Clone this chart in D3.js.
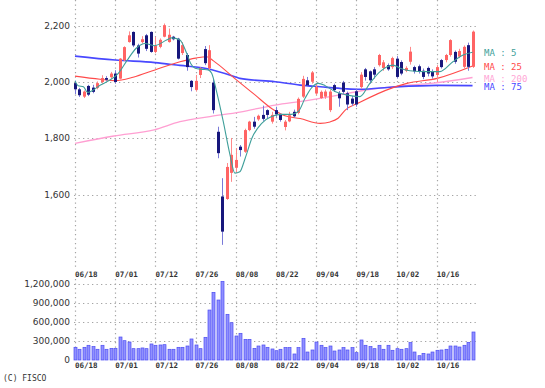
<!DOCTYPE html>
<html>
<head>
<meta charset="utf-8">
<script src="https://cdn.jsdelivr.net/npm/d3@7"></script>
<style>
  body { margin: 0; background: #fff; }
  svg { display: block; }
</style>
</head>
<body>
<svg id="chart" width="545" height="388"></svg>
<script>
'use strict';

// trading days (2019)
var dates = [
  '06/18','06/19','06/20','06/21','06/24','06/25','06/26','06/27','06/28',
  '07/01','07/02','07/03','07/04','07/05','07/08','07/09','07/10','07/11','07/12',
  '07/16','07/17','07/18','07/19','07/22','07/23','07/24','07/25','07/26',
  '07/29','07/30','07/31','08/01','08/02','08/05','08/06','08/07','08/08',
  '08/09','08/13','08/14','08/15','08/16','08/19','08/20','08/21','08/22',
  '08/23','08/26','08/27','08/28','08/29','08/30','09/02','09/03','09/04',
  '09/05','09/06','09/09','09/10','09/11','09/12','09/13','09/17','09/18',
  '09/19','09/20','09/24','09/25','09/26','09/27','09/30','10/01','10/02',
  '10/03','10/04','10/07','10/08','10/09','10/10','10/11','10/15','10/16',
  '10/17','10/18','10/21','10/23','10/24','10/25','10/28','10/29'
];

var opens = [
  1996,1974,1948,1986,1980,1979,2000,2014,2017,2030,2012,2077,2142,2178,2130,2142,2166,2178,
  2107,2125,2161,2142,2161,2154,2103,2096,2004,1972,2025,2117,2049,1998,1823,1593,1584,1677,
  1695,1770,1752,1829,1859,1867,1883,1900,1859,1900,1883,1840,1860,1894,1890,1948,2006,2001,
  1959,1943,1948,1900,1989,1960,1998,1960,1941,1967,1982,2045,2038,2045,2060,2050,2060,2053,
  2083,2071,2040,2072,2053,2056,2040,2050,2036,2025,2078,2078,2096,2107,2090,2054,2131,2054
];
var highs = [
  2005,1979,1970,1990,1990,2002,2024,2021,2036,2042,2085,2127,2180,2180,2136,2163,2171,2180,
  2160,2155,2208,2190,2164,2157,2142,2103,2007,2025,2052,2128,2131,2012,1841,1658,1712,1801,
  1765,1776,1834,1862,1876,1884,1916,1903,1894,1912,1888,1865,1894,1902,1945,2022,2018,2039,
  1994,1970,1973,1973,1994,1968,2004,1966,1950,1976,2035,2050,2041,2053,2100,2078,2066,2090,
  2092,2077,2056,2125,2058,2062,2048,2055,2045,2060,2082,2100,2152,2112,2118,2130,2140,2183
];
var lows = [
  1957,1947,1943,1950,1960,1974,1994,2004,2012,1994,2009,2075,2140,2124,2087,2137,2110,2104,
  2102,2120,2159,2140,2148,2080,2096,2040,1967,1966,2014,2060,2043,1888,1729,1421,1581,1645,
  1677,1735,1748,1825,1834,1862,1862,1869,1852,1876,1859,1828,1857,1873,1885,1943,1986,1994,
  1953,1940,1940,1893,1965,1912,1958,1900,1915,1912,1976,2005,1994,2012,2055,2040,2040,2046,
  2012,2024,2035,2062,2030,2030,2010,2020,2012,2000,2048,2070,2090,2065,2085,2048,2040,2050
];
var closes = [
  1974,1953,1966,1955,1965,1996,2014,2008,2030,2000,2083,2124,2166,2130,2101,2152,2118,2107,
  2130,2150,2202,2168,2152,2083,2131,2053,1982,2004,2050,2067,2113,1900,1747,1468,1698,1741,
  1723,1758,1829,1859,1841,1880,1869,1883,1883,1885,1865,1859,1882,1878,1940,2011,1988,2034,
  1983,1965,1966,1966,1971,1942,1965,1920,1923,1920,2026,2018,2006,2026,2096,2070,2045,2085,
  2018,2030,2050,2108,2038,2036,2018,2030,2020,2053,2053,2096,2149,2072,2110,2125,2054,2179
];

var volumes = [
  200000,169000,200000,232000,211000,169000,232000,169000,184000,184000,363000,305000,284000,
  179000,179000,190000,179000,253000,232000,237000,242000,169000,169000,200000,200000,221000,
  332000,237000,179000,358000,789000,1068000,947000,1240000,721000,589000,379000,421000,326000,
  326000,184000,221000,237000,200000,174000,147000,169000,195000,195000,95000,195000,342000,
  126000,158000,284000,232000,195000,221000,142000,158000,195000,158000,195000,116000,316000,
  232000,211000,179000,232000,169000,232000,153000,179000,169000,179000,274000,126000,68000,
  105000,95000,126000,153000,158000,169000,221000,221000,205000,232000,279000,442000
];

// moving averages: [day index, price]
var ma5 = [
  [0,2004],[0.7,1987],[1.9,1983],[2.8,1963],[3.7,1968],[5.7,1989],[7.8,2007],[9.7,2031],
  [11.7,2078],[13.7,2120],[15.7,2137],[17.7,2129],[20.5,2149],[21.6,2157],[23.5,2149],
  [25,2102],[25.9,2066],[26.9,2049],[28.4,2045],[29.8,2043],[30.6,2031],[31.7,1966],
  [33.2,1859],[34.7,1741],[35.8,1676],[36.9,1681],[38.1,1729],[39.6,1800],[41.8,1853],
  [44,1877],[46.3,1885],[48.5,1885],[50,1895],[51.5,1942],[53,1980],[54.5,1995],[56,1987],
  [58.2,1966],[60.5,1955],[63.8,1948],[66,1995],[68.3,2037],[71.2,2060],[72.8,2049],
  [75,2040],[78.8,2037],[81.7,2037],[84.6,2072],[86.9,2096],[89,2106]
];
var ma25 = [
  [0,2021],[5.6,2010],[9,2005],[13,2017],[17.9,2043],[23.5,2072],[27,2085],[29.5,2090],
  [31,2075],[35.8,2012],[40.3,1954],[44.1,1905],[47,1880],[50.4,1870],[54.9,1853],
  [57.1,1858],[58.9,1871],[60.5,1900],[63.8,1928],[71.2,1980],[74.3,1995],[81.1,2013],
  [89,2057]
];
var ma75 = [
  [0,2092],[9,2078],[17.9,2069],[23.5,2059],[29.1,2049],[35.8,2019],[36.9,2013],
  [44.8,2001],[50.4,1989],[54.9,1983],[60.5,1976],[63.8,1974],[71.2,1982],[81.1,1988],
  [89,1987]
];
var ma200 = [
  [0,1782],[8.7,1808],[17.7,1830],[23.5,1859],[30.2,1877],[36.9,1893],[44.8,1918],
  [51.5,1933],[59.3,1954],[63.8,1968],[72.8,1986],[80.2,1996],[89,2016]
];

var priceTicks = [1600, 1800, 2000, 2200];
var volumeTicks = [0, 300000, 600000, 900000, 1200000];
var labelDays = [0, 9, 18, 27, 36, 45, 54, 63, 72, 81];

var legend = [
  {name: 'MA : 5', color: '#3f9f9a'},
  {name: 'MA : 25', color: '#ff4a4a'},
  {name: 'MA : 200', color: '#ffa6d6'},
  {name: 'MA : 75', color: '#4848ff'}
];

var svg = d3.select('#chart');
var fmt = d3.format(',');

var left = 74, right = 476;
var x = d3.scaleLinear().domain([0, 90]).range([75, 477]);
var y = d3.scaleLinear().domain([1600, 2200]).range([194.5, 25.75]);
var yv = d3.scaleLinear().domain([0, 1200000]).range([360, 284]);

var grid = svg.append('g')
  .attr('stroke', '#a4a4a4')
  .attr('stroke-width', 1.2)
  .attr('stroke-dasharray', '1.3,3.2');

// horizontal grid
grid.selectAll('.hp').data(priceTicks).enter().append('line')
  .attr('x1', left).attr('x2', right)
  .attr('y1', function(d) { return Math.round(y(d)) + 0.5; })
  .attr('y2', function(d) { return Math.round(y(d)) + 0.5; });

grid.selectAll('.hv').data(volumeTicks.filter(function(d) { return d > 0; })).enter().append('line')
  .attr('x1', left).attr('x2', right)
  .attr('y1', function(d) { return Math.round(yv(d)) + 0.5; })
  .attr('y2', function(d) { return Math.round(yv(d)) + 0.5; });

// vertical grid, price and volume panes
labelDays.forEach(function(i) {
  var gx = Math.round(x(i)) + 0.5;
  grid.append('line').attr('x1', gx).attr('x2', gx).attr('y1', 0).attr('y2', 269);
  grid.append('line').attr('x1', gx).attr('x2', gx).attr('y1', 279).attr('y2', 360);
});

// price axis labels
svg.append('g').selectAll('text').data(priceTicks).enter().append('text')
  .attr('x', 70).attr('y', function(d) { return y(d); })
  .attr('dy', '0.35em')
  .attr('text-anchor', 'end')
  .style('font', '9px "DejaVu Sans"')
  .style('fill', '#333')
  .text(fmt);

// volume axis labels
svg.append('g').selectAll('text').data(volumeTicks).enter().append('text')
  .attr('x', 70).attr('y', function(d) { return yv(d); })
  .attr('dy', '0.35em')
  .attr('text-anchor', 'end')
  .style('font', '9px "DejaVu Sans"')
  .style('fill', '#333')
  .text(fmt);

// date labels, above and below the volume pane
[274, 365].forEach(function(ty) {
  svg.append('g').selectAll('text').data(labelDays).enter().append('text')
    .attr('x', function(i) { return x(i); })
    .attr('y', ty)
    .attr('dy', '0.35em')
    .style('font', 'bold 7.5px "DejaVu Sans Mono"')
    .style('fill', '#333')
    .text(function(i) { return dates[i]; });
});

// moving averages under the candles
var line = d3.line()
  .x(function(d) { return x(d[0]); })
  .y(function(d) { return y(d[1]); })
  .curve(d3.curveMonotoneX);

svg.append('path').datum(ma200).attr('d', line)
  .attr('fill', 'none').attr('stroke', '#ff9fd2').attr('stroke-width', 1.3);
svg.append('path').datum(ma75).attr('d', line)
  .attr('fill', 'none').attr('stroke', '#4848ff').attr('stroke-width', 1.6);
svg.append('path').datum(ma25).attr('d', line)
  .attr('fill', 'none').attr('stroke', '#ff4a4a').attr('stroke-width', 1.1);

// candles
var candles = svg.append('g').selectAll('g').data(dates).enter().append('g');

candles.append('line')
  .attr('x1', function(d, i) { return Math.round(x(i)) + 0.5; })
  .attr('x2', function(d, i) { return Math.round(x(i)) + 0.5; })
  .attr('y1', function(d, i) { return y(highs[i]); })
  .attr('y2', function(d, i) { return y(lows[i]); })
  .attr('stroke', function(d, i) { return closes[i] >= opens[i] ? '#ff8a8a' : '#7a7ad8'; })
  .attr('stroke-width', 1);

candles.append('rect')
  .attr('x', function(d, i) { return Math.round(x(i)) - 1; })
  .attr('width', 3)
  .attr('y', function(d, i) { return y(Math.max(opens[i], closes[i])); })
  .attr('height', function(d, i) { return Math.max(1.5, Math.abs(y(opens[i]) - y(closes[i]))); })
  .attr('fill', function(d, i) { return closes[i] >= opens[i] ? '#ff6464' : '#17177c'; });

svg.append('path').datum(ma5).attr('d', line)
  .attr('fill', 'none').attr('stroke', '#3f9f9a').attr('stroke-width', 1.1);

// volume bars
svg.append('g').selectAll('rect').data(volumes).enter().append('rect')
  .attr('x', function(d, i) { return Math.round(x(i)) - 1; })
  .attr('width', 3)
  .attr('y', function(d) { return yv(d); })
  .attr('height', function(d) { return yv(0) - yv(d); })
  .attr('fill', '#9090ff')
  .attr('stroke', '#4c4cf2')
  .attr('stroke-width', 0.7);

// legend
svg.append('g').selectAll('text').data(legend).enter().append('text')
  .attr('x', 484)
  .attr('y', function(d, i) { return [52.7, 67.3, 78.7, 87.3][i]; })
  .attr('dy', '0.35em')
  .style('font', '9px "DejaVu Sans Mono"')
  .style('fill', function(d) { return d.color; })
  .text(function(d) { return d.name; });

svg.append('text')
  .attr('x', 3).attr('y', 378).attr('dy', '0.35em')
  .style('font', '8px "DejaVu Sans Mono"')
  .style('fill', '#333')
  .text('(C) FISCO');
</script>
</body>
</html>
